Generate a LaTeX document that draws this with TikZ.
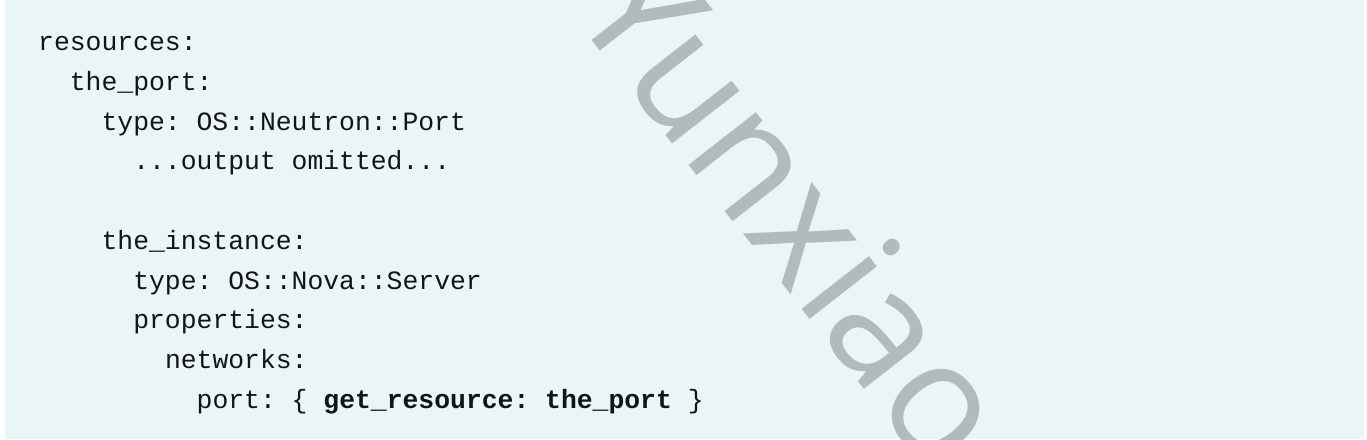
\documentclass[tikz,border=0pt]{standalone}
\usepackage{fontspec}
\setmonofont{Liberation Mono}
\newfontfamily\markfont{Open Sans}
\usepackage{xcolor}
\definecolor{panel}{HTML}{EAF5F8}
\definecolor{ink}{HTML}{141414}
\definecolor{mark}{HTML}{B1BBBD}
\tikzset{
  code/.style={anchor=base west, inner sep=0pt, text=ink, font=\fontsize{26.4}{39.7}\selectfont\ttfamily},
  wmark/.style={anchor=base west, text=mark, inner sep=0pt, rotate=-52, font=\fontsize{160}{160}\selectfont\markfont},
}

\begin{document}
\begin{tikzpicture}[x=1pt,y=-1pt]
  \def\cw{15.85}
  \def\lh{39.75}
  \def\xo{38}
  \def\yo{50.7}
  \useasboundingbox (0,0) rectangle (1367,439);
  \fill[panel] (4.5,0) rectangle (1364,439);
  % watermark
  \node[wmark] (mark) at (568,10) {Yunxiao};
  % template lines
  \node[code] (res) at (\xo,\yo) {resources:};
  \node[code] (port) at ({\xo+2*\cw},{\yo+\lh}) {the\_port:};
  \node[code] (ptype) at ({\xo+4*\cw},{\yo+2*\lh}) {type: OS::Neutron::Port};
  \node[code] (omit) at ({\xo+6*\cw},{\yo+3*\lh}) {...output omitted...};
  \node[code] (inst) at ({\xo+4*\cw},{\yo+5*\lh}) {the\_instance:};
  \node[code] (itype) at ({\xo+6*\cw},{\yo+6*\lh}) {type: OS::Nova::Server};
  \node[code] (props) at ({\xo+6*\cw},{\yo+7*\lh}) {properties:};
  \node[code] (nets) at ({\xo+8*\cw},{\yo+8*\lh}) {networks:};
  \node[code] (ref) at ({\xo+10*\cw},{\yo+9*\lh}) {port: \{ \textbf{get\_resource: the\_port} \}};
\end{tikzpicture}
\end{document}
